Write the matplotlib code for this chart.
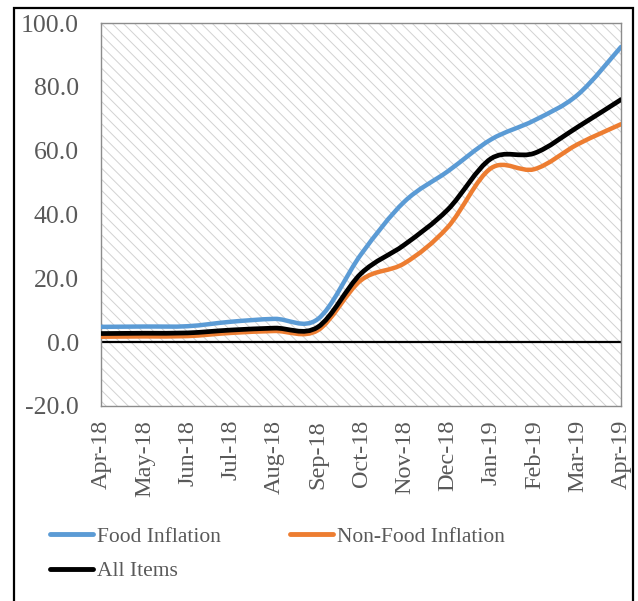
import numpy as np
import matplotlib.pyplot as plt
from matplotlib.path import Path
from matplotlib.patches import PathPatch, Rectangle
from matplotlib.lines import Line2D

# Data
months = ['Apr-18', 'May-18', 'Jun-18', 'Jul-18', 'Aug-18', 'Sep-18', 'Oct-18',
          'Nov-18', 'Dec-18', 'Jan-19', 'Feb-19', 'Mar-19', 'Apr-19']
food = [4.8, 4.9, 5.0, 6.4, 7.3, 7.2, 27.5, 44.0, 53.5, 63.5, 69.5, 77.5, 92.5]
non_food = [1.7, 1.8, 1.9, 2.9, 3.5, 3.7, 19.4, 24.7, 36.0, 54.5, 54.2, 62.0, 68.3]
all_items = [2.7, 2.8, 2.9, 3.8, 4.4, 4.7, 21.5, 30.5, 41.5, 57.5, 59.2, 67.4, 76.0]

BLUE = '#5B9BD5'
ORANGE = '#ED7D31'
GRAY_TXT = '#595959'

plt.rcParams['font.family'] = ['Liberation Serif', 'DejaVu Serif']
plt.rcParams['hatch.color'] = '#d2d2d2'
plt.rcParams['hatch.linewidth'] = 0.7


def smooth_path(y):
    # excel-like smoothed line: bezier segments through the data points
    x = np.arange(len(y), dtype=float)
    p = np.column_stack([x, np.asarray(y, dtype=float)])
    n = len(p)
    verts = [p[0]]
    codes = [Path.MOVETO]
    for i in range(n - 1):
        p_prev = p[i - 1] if i > 0 else p[i]
        p_next2 = p[i + 2] if i + 2 < n else p[i + 1]
        c1 = p[i] + (p[i + 1] - p_prev) / 6.0
        c2 = p[i + 1] - (p_next2 - p[i]) / 6.0
        verts += [c1, c2, p[i + 1]]
        codes += [Path.CURVE4] * 3
    return Path(verts, codes)


fig = plt.figure(figsize=(6.38, 6.01), dpi=100)
ax = fig.add_axes([101 / 638, 1 - 406 / 601, 520 / 638, 383 / 601])

# hatched plot area
ax.add_patch(Rectangle((0, 0), 1, 1, transform=ax.transAxes, facecolor='white',
                       edgecolor='#d2d2d2', hatch='\\\\\\', linewidth=0, zorder=0))

ax.axhline(0, color='black', linewidth=1.6, zorder=2)

series = [(food, BLUE, 3.2), (non_food, ORANGE, 3.2), (all_items, 'black', 3.4)]
for vals, col, lw in series:
    ax.add_patch(PathPatch(smooth_path(vals), fill=False, edgecolor=col,
                           linewidth=lw, capstyle='round', joinstyle='round', zorder=3))

ax.set_xlim(0, len(months) - 1)
ax.set_ylim(-20, 100)
ax.set_yticks(np.arange(-20, 101, 20))
ax.set_yticklabels([f'{v:.1f}' for v in np.arange(-20, 101, 20)])
ax.set_xticks(range(len(months)))
ax.set_xticklabels(months, rotation=90)
ax.tick_params(axis='y', length=0, pad=16, labelsize=18.5, labelcolor=GRAY_TXT)
ax.tick_params(axis='x', length=0, pad=10, labelsize=17.5, labelcolor=GRAY_TXT)
for s in ax.spines.values():
    s.set_color('#8c8c8c')
    s.set_linewidth(1.0)

handles = [Line2D([], [], color=BLUE, lw=3.5, solid_capstyle='round'),
           Line2D([], [], color='black', lw=3.5, solid_capstyle='round'),
           Line2D([], [], color=ORANGE, lw=3.5, solid_capstyle='round')]
labels = ['Food Inflation', 'All Items', 'Non-Food Inflation']
leg = fig.legend(handles, labels, ncol=2, loc='upper left',
                 bbox_to_anchor=(39 / 638, 1 - 516 / 601), frameon=False,
                 fontsize=15.5, handlelength=2.0, handletextpad=0.2,
                 columnspacing=3.2, labelspacing=0.66, borderpad=0)
for t in leg.get_texts():
    t.set_color(GRAY_TXT)

# outer chart border
fig.patches.append(Rectangle((14 / 638, -0.05), 619 / 638, 1.05 - 8 / 601,
                             transform=fig.transFigure, fill=False,
                             edgecolor='black', linewidth=1.6))

fig.savefig('out.png', dpi=100)
